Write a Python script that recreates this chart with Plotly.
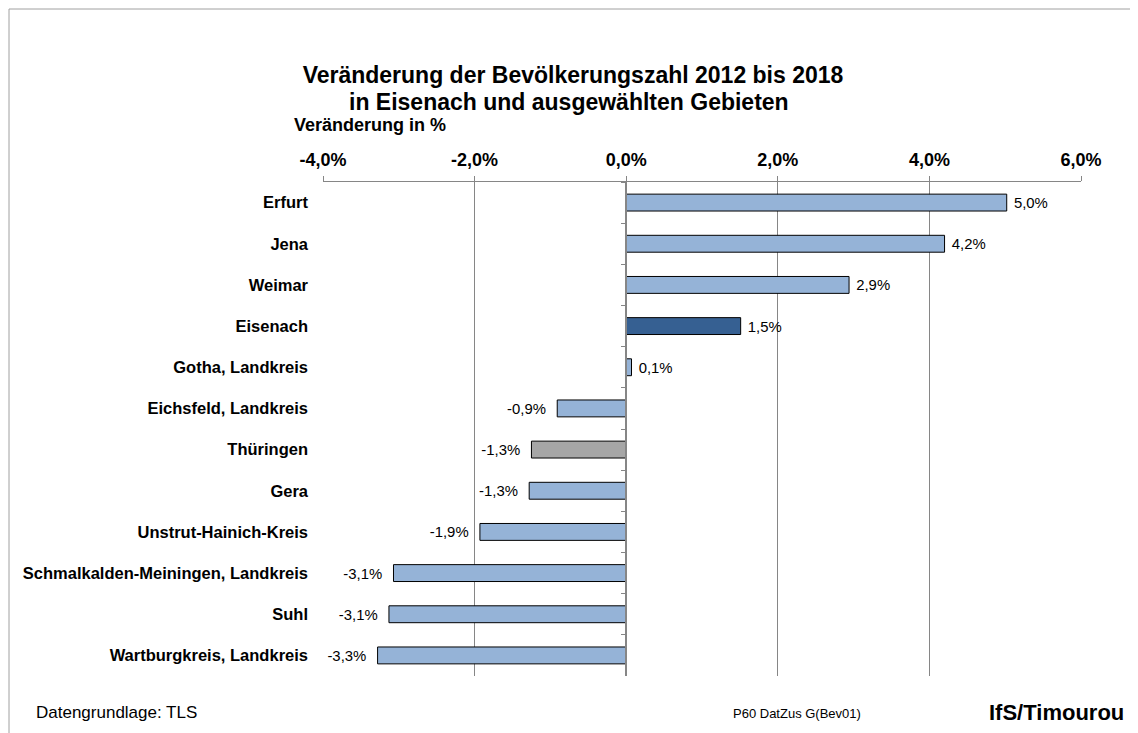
import plotly.graph_objects as go

categories = ["Erfurt", "Jena", "Weimar", "Eisenach", "Gotha, Landkreis",
              "Eichsfeld, Landkreis", "Thüringen", "Gera", "Unstrut-Hainich-Kreis",
              "Schmalkalden-Meiningen, Landkreis", "Suhl", "Wartburgkreis, Landkreis"]
values = [5.02, 4.2, 2.94, 1.51, 0.07, -0.91, -1.25, -1.28, -1.93, -3.07, -3.13, -3.28]
tick_vals = [-4, -2, 0, 2, 4, 6]
tick_labels = ["-4,0%", "-2,0%", "0,0%", "2,0%", "4,0%", "6,0%"]

LIGHT = "#95B3D7"
DARK = "#366092"
GREY = "#A6A6A6"
colors = [DARK if c == "Eisenach" else GREY if c == "Thüringen" else LIGHT for c in categories]
NB = "\u00a0"
templates = [(NB + "%{x:.1f}%") if v >= 0 else ("%{x:.1f}%" + NB + NB) for v in values]

FONT = "Liberation Sans, Arial, sans-serif"
AX = "#868686"

fig = go.Figure()
fig.add_trace(go.Bar(
    y=categories, x=values, orientation="h",
    marker=dict(color=colors, line=dict(color="black", width=1)),
    texttemplate=templates, textposition="outside",
    textfont=dict(family=FONT, size=15, color="black"),
    cliponaxis=False, showlegend=False, hoverinfo="skip",
))
# invisible trace to carry the tick marks on the zero line
fig.add_trace(go.Scatter(
    y=categories, x=[0] * len(categories), yaxis="y2", mode="markers",
    marker=dict(opacity=0), showlegend=False, hoverinfo="skip",
))

OFF = 8  # page body margin
PL, PR, PT, PB = 323, 1081, 182, 676  # plot area in page pixels
W, H = 1138 - OFF, 733 - OFF
L, T = PL - OFF, PT - OFF
R, B = W - (PR - OFF), H - (PB - OFF)
pw, ph = PR - PL, PB - PT

def px_x(p):
    return (p - PL) / pw

def px_y(p):
    return (PB - p) / ph

fig.update_layout(
    width=W, height=H,
    margin=dict(l=L, r=R, t=T, b=B, pad=0),
    paper_bgcolor="white", plot_bgcolor="white",
    separators=",.",
    bargap=0.59,
    font=dict(family=FONT, color="black"),
    title=dict(
        text="<b>Veränderung der Bevölkerungszahl 2012 bis 2018</b>",
        x=0.5, xanchor="center", y=1 - (74.5 - OFF) / H, yanchor="middle",
        font=dict(family=FONT, size=23, color="black"),
    ),
    xaxis=dict(
        range=[-4, 6], side="top", tickvals=tick_vals, ticktext=tick_labels,
        tickfont=dict(family=FONT, size=18, color="black", weight="bold"),
        showgrid=True, gridcolor=AX, gridwidth=1,
        showline=True, linecolor=AX, linewidth=1,
        ticks="outside", ticklen=5, tickcolor=AX, ticklabelstandoff=3,
        zeroline=True, zerolinecolor=AX, zerolinewidth=2,
        fixedrange=True,
    ),
    yaxis=dict(
        range=[11.5, -0.5], categoryorder="array", categoryarray=categories,
        showgrid=False, zeroline=False, showline=False, ticks="",
        ticklabelstandoff=14,
        tickfont=dict(family=FONT, size=16.5, color="black", weight="bold"),
    ),
    yaxis2=dict(
        overlaying="y", anchor="free", position=0.4, side="left",
        range=[11.5, -0.5], categoryorder="array", categoryarray=categories,
        showticklabels=False, showgrid=False, zeroline=False,
        showline=True, linecolor=AX, linewidth=2,
        ticks="outside", ticklen=4, tickcolor=AX, tickson="boundaries",
    ),
    shapes=[dict(
        type="rect", xref="paper", yref="paper",
        x0=px_x(9), x1=px_x(1150), y0=px_y(745), y1=px_y(9),
        line=dict(color="#A0A0A0", width=1), fillcolor="rgba(0,0,0,0)", layer="below",
    )],
    annotations=[
        dict(text="<b>in Eisenach und ausgewählten Gebieten</b>", xref="paper", yref="paper",
             x=px_x(569), y=px_y(101.5), xanchor="center", yanchor="middle",
             showarrow=False, font=dict(family=FONT, size=23, color="black")),
        dict(text="<b>Veränderung in %</b>", xref="paper", yref="paper",
             x=px_x(292), y=px_y(125.5), xanchor="left", yanchor="middle",
             showarrow=False, font=dict(family=FONT, size=18, color="black")),
        dict(text="Datengrundlage: TLS", xref="paper", yref="paper",
             x=px_x(34), y=px_y(712), xanchor="left", yanchor="middle",
             showarrow=False, font=dict(family=FONT, size=17, color="black")),
        dict(text="P60 DatZus G(Bev01)", xref="paper", yref="paper",
             x=px_x(797), y=px_y(713), xanchor="center", yanchor="middle",
             showarrow=False, font=dict(family=FONT, size=13, color="black")),
        dict(text="<b>IfS/Timourou</b>", xref="paper", yref="paper",
             x=px_x(1126), y=px_y(712), xanchor="right", yanchor="middle",
             showarrow=False, font=dict(family=FONT, size=22, color="black")),
    ],
)

fig.write_html("out.html")
